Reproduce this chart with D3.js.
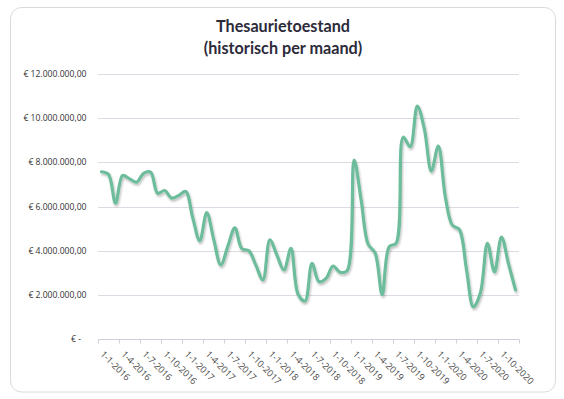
<!DOCTYPE html>
<html>
<head>
<meta charset="utf-8">
<script src="https://cdn.jsdelivr.net/npm/d3@7"></script>
<style>
  html, body { margin: 0; padding: 0; background: #ffffff; }
  svg { display: block; }
</style>
</head>
<body>
<svg id="chart" width="564" height="399"></svg>
<script>
// ---- data ----
const titleLines = ["Thesaurietoestand", "(historisch per maand)"];
const startYear = 2016;
const monthCount = 60;
const months = d3.range(monthCount).map(i => new Date(startYear + Math.floor(i / 12), i % 12, 1));
const values = [
  7.57, 7.45, 6.15, 7.4, 7.25, 7.1, 7.5, 7.55, 6.6, 6.72,
  6.38, 6.5, 6.68, 5.5, 4.45, 5.72, 4.5, 3.36, 4.2, 5.03,
  4.1, 4.0, 3.35, 2.68, 4.49, 3.8, 3.13, 4.11, 2.05, 1.73,
  3.43, 2.6, 2.75, 3.31, 3.03, 3.1, 8.1, 6.3, 4.3, 3.9,
  2.02, 4.18, 4.35, 9.13, 8.7, 10.54, 9.53, 7.6, 8.73, 6.44,
  5.16, 4.96, 3.2, 1.46, 2.1, 4.34, 3.05, 4.62, 3.42, 2.23
].map(v => v * 1e6);
const yTicks = [0, 2e6, 4e6, 6e6, 8e6, 10e6, 12e6];
const labelMonths = months.filter(d => d.getMonth() % 3 === 0);

// ---- layout ----
const svg = d3.select("#chart");
const plot = { left: 98, right: 519, top: 73.7, bottom: 339.3 };

svg.append("rect")
  .attr("x", 10.5).attr("y", 7.5).attr("width", 545).attr("height", 384.5)
  .attr("rx", 11).attr("ry", 11)
  .attr("fill", "#ffffff").attr("stroke", "#dadada").attr("stroke-width", 1);

const x = d3.scaleBand().domain(months).range([plot.left, plot.right]).padding(0);
const y = d3.scaleLinear().domain([0, 12e6]).range([plot.bottom, plot.top]);
const cx = d => x(d) + x.bandwidth() / 2;

const locale = d3.formatLocale({ decimal: ",", thousands: ".", grouping: [3], currency: ["€ ", ""] });
const fmt = locale.format("$,.2f");
const yFmt = v => v === 0 ? "€ -" : fmt(v);

// title
svg.selectAll("text.title").data(titleLines).enter().append("text")
  .attr("class", "title")
  .attr("x", 283).attr("y", (d, i) => 31.5 + i * 22)
  .attr("text-anchor", "middle")
  .attr("font-family", "Lato, 'Open Sans', sans-serif")
  .attr("font-weight", 700).attr("font-size", "16.2px")
  .attr("fill", "#2c2b3a")
  .text(d => d);

// gridlines
svg.append("g").selectAll("line").data(yTicks.filter(v => v > 0)).enter().append("line")
  .attr("x1", plot.left).attr("x2", plot.right)
  .attr("y1", d => Math.round(y(d)) + 0.5).attr("y2", d => Math.round(y(d)) + 0.5)
  .attr("stroke", "#dcdae2").attr("stroke-width", 1);

// y labels
svg.append("g").selectAll("text").data(yTicks).enter().append("text")
  .attr("x", d => d === 0 ? 81 : 86.5)
  .attr("y", d => y(d))
  .attr("dy", "0.35em")
  .attr("text-anchor", "end")
  .attr("font-family", "'Open Sans', sans-serif")
  .attr("font-size", "8.6px")
  .attr("fill", "#333333")
  .text(yFmt);

// x axis line and ticks
const axisY = Math.round(y(0)) + 0.5;
svg.append("line")
  .attr("x1", plot.left).attr("x2", plot.right)
  .attr("y1", axisY).attr("y2", axisY)
  .attr("stroke", "#d0ced8").attr("stroke-width", 1);
const tickPos = labelMonths.map(d => x(d)).concat([plot.right]);
svg.append("g").selectAll("line").data(tickPos).enter().append("line")
  .attr("x1", d => Math.round(d) + 0.5).attr("x2", d => Math.round(d) + 0.5)
  .attr("y1", axisY).attr("y2", axisY + 4)
  .attr("stroke", "#d0ced8").attr("stroke-width", 1);

// x labels
svg.append("g").selectAll("text").data(labelMonths).enter().append("text")
  .attr("transform", d => `translate(${cx(d) + 0.5},${352.5}) rotate(45)`)
  .attr("dy", "0.35em")
  .attr("text-anchor", "start")
  .attr("font-family", "'Open Sans', sans-serif")
  .attr("font-size", "9.2px")
  .attr("fill", "#4a4a4a")
  .text(d => `${d.getDate()}-${d.getMonth() + 1}-${d.getFullYear()}`);

// line shadow + line
const defs = svg.append("defs");
const f = defs.append("filter").attr("id", "shadow").attr("x", "-5%").attr("y", "-5%").attr("width", "110%").attr("height", "115%");
f.append("feGaussianBlur").attr("in", "SourceAlpha").attr("stdDeviation", 1.2).attr("result", "b");
f.append("feOffset").attr("in", "b").attr("dx", 0.5).attr("dy", 1.5).attr("result", "o");
f.append("feComponentTransfer").attr("in", "o").attr("result", "s")
  .append("feFuncA").attr("type", "linear").attr("slope", 0.25);
const m = f.append("feMerge");
m.append("feMergeNode").attr("in", "s");
m.append("feMergeNode").attr("in", "SourceGraphic");

const line = d3.line()
  .x((d, i) => cx(months[i]))
  .y(d => y(d))
  .curve(d3.curveCatmullRom.alpha(0.5));

svg.append("path")
  .datum(values)
  .attr("d", line)
  .attr("fill", "none")
  .attr("stroke", "#6dbd9c")
  .attr("stroke-width", 3.2)
  .attr("stroke-linejoin", "round")
  .attr("stroke-linecap", "round")
  .attr("filter", "url(#shadow)");
</script>
</body>
</html>
